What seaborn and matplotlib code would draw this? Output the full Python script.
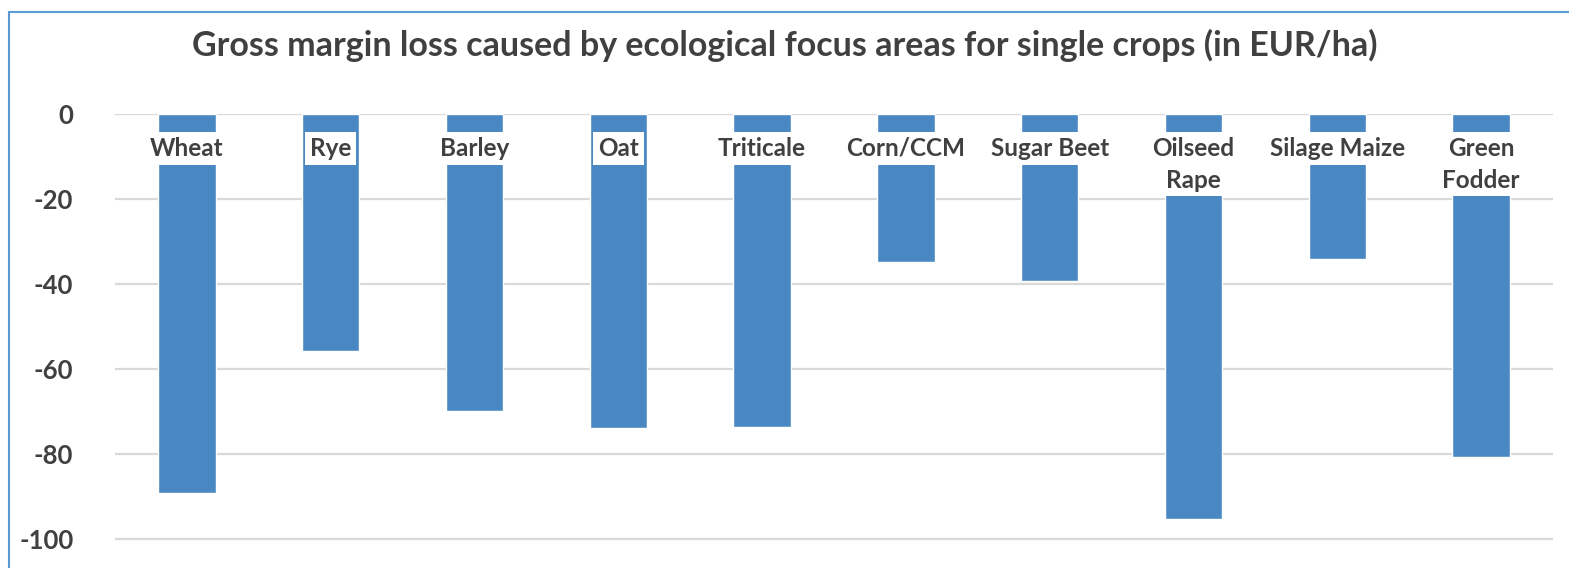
import pandas as pd
import matplotlib.pyplot as plt
import seaborn as sns
from matplotlib.patches import Rectangle

# ------------------------------------------------------------
# Datos
# ------------------------------------------------------------
cultivos = ["Wheat", "Rye", "Barley", "Oat", "Triticale", "Corn/CCM",
            "Sugar Beet", "Oilseed Rape", "Silage Maize", "Green Fodder"]
etiquetas = ["Wheat", "Rye", "Barley", "Oat", "Triticale", "Corn/CCM",
             "Sugar Beet", "Oilseed\nRape", "Silage Maize", "Green\nFodder"]
perdida = [-89.2, -55.8, -69.9, -73.8, -73.6, -34.9, -39.2, -95.2, -34.1, -80.6]
ticks_y = [0, -20, -40, -60, -80, -100]

df = pd.DataFrame({"cultivo": cultivos, "perdida": perdida})

# ------------------------------------------------------------
# Estilo
# ------------------------------------------------------------
sns.set_style("white")
plt.rcParams["font.family"] = ["Lato", "DejaVu Sans"]
gris = "#404040"
azul = "#4A88C4"

fig = plt.figure(figsize=(15.69, 5.68), dpi=100)
ax = fig.add_axes([115 / 1569, 0.0, (1553 - 115) / 1569, (568 - 114) / 568])

sns.barplot(data=df, x="cultivo", y="perdida", color=azul, saturation=1,
            width=0.40, ax=ax, zorder=3)

ax.set_ylim(-106.8, 0)
ax.set_xlim(-0.5, len(cultivos) - 0.5)
ax.set_yticks(ticks_y)
ax.set_yticklabels([str(t) for t in ticks_y], fontsize=18.5, fontweight="bold", color=gris)
ax.tick_params(axis="y", length=0, pad=30)
ax.set_xticks([])
ax.set_xlabel("")
ax.set_ylabel("")
ax.yaxis.grid(True, color="#D9D9D9", linewidth=1.6, zorder=0)
ax.set_axisbelow(True)
for s in ax.spines.values():
    s.set_visible(False)

# Etiquetas de categoría dentro de las barras, con fondo blanco
for i, etq in enumerate(etiquetas):
    ax.text(i, -5.4, etq, ha="center", va="top", fontsize=17.5, fontweight="bold",
            color=gris, linespacing=1.45, zorder=5, clip_on=False,
            bbox=dict(boxstyle="square,pad=0.2", facecolor="white", edgecolor="none"))

fig.text(0.5, 1 - 45 / 568, "Gross margin loss caused by ecological focus areas for single crops (in EUR/ha)",
         ha="center", va="center", fontsize=24.5, fontweight="bold", color=gris)

# Marco del gráfico (estilo Excel)
fig.patches.append(Rectangle((9 / 1569, -0.1), 1.2, 1 - 12 / 568 + 0.1, transform=fig.transFigure,
                             fill=False, edgecolor="#5B9BD5", linewidth=1.5))

plt.savefig("out.png", dpi=100)
